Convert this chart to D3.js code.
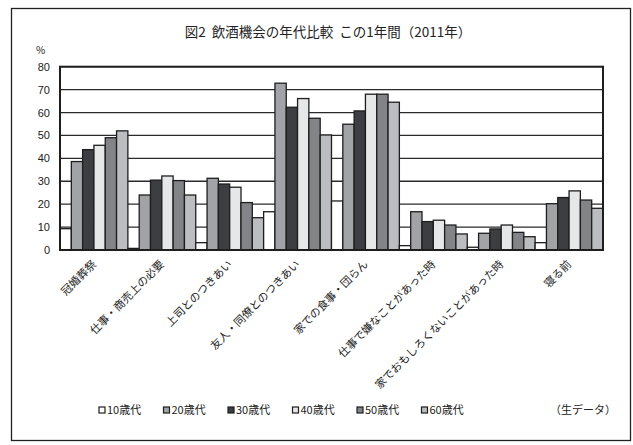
<!DOCTYPE html>
<html>
<head>
<meta charset="utf-8">
<script src="https://cdn.jsdelivr.net/npm/d3@7"></script>
<style>
  body { margin: 0; background: #fff; }
  svg text { font-family: "Noto Sans CJK JP", "Noto Sans", sans-serif; fill: #222; }
</style>
</head>
<body>
<div id="chart"></div>
<script>
// categories (drinking occasions)
var categories = ["冠婚葬祭", "仕事・商売上の必要", "上司とのつきあい", "友人・同僚とのつきあい",
	"家での食事・団らん", "仕事で嫌なことがあった時", "家でおもしろくないことがあった時", "寝る前"];
var ages = ["10歳代", "20歳代", "30歳代", "40歳代", "50歳代", "60歳代"];

// percent, one array per age group, in category order
var v10 = [9.3, 0.7, 3.2, 16.7, 21.4, 1.9, 1.2, 3.2];
var v20 = [38.6, 24.0, 31.3, 72.8, 54.9, 16.7, 7.3, 20.2];
var v30 = [43.8, 30.5, 28.8, 62.3, 60.7, 12.4, 9.2, 22.9];
var v40 = [45.7, 32.3, 27.4, 66.1, 68.0, 13.0, 10.9, 25.8];
var v50 = [49.0, 30.3, 20.7, 57.5, 68.0, 10.9, 7.7, 21.8];
var v60 = [52.0, 24.0, 14.1, 50.2, 64.5, 7.0, 5.8, 18.2];
var yTicks = [0, 10, 20, 30, 40, 50, 60, 70, 80];

var series = [v10, v20, v30, v40, v50, v60];
var colors = ["#ffffff", "#a2a3a6", "#3d3e41", "#e6e7e9", "#838487", "#bcbdc0"];

var W = 633, H = 445;
var margin = {top: 66.7, right: 30, bottom: 195, left: 60};

var svg = d3.select("#chart").append("svg")
	.attr("width", W)
	.attr("height", H);

// outer frame
svg.append("rect")
	.attr("x", 11.5).attr("y", 8.5)
	.attr("width", 619).attr("height", 432)
	.attr("fill", "none")
	.attr("stroke", "#222")
	.attr("stroke-width", 1.3);

var x0 = d3.scaleBand()
	.domain(categories)
	.range([margin.left, W - margin.right])
	.padding(0);
var x1 = d3.scaleBand()
	.domain(ages)
	.range([0, x0.bandwidth()])
	.padding(0);
var y = d3.scaleLinear()
	.domain([0, 80])
	.range([H - margin.bottom, margin.top]);

// gridlines
svg.append("g")
	.selectAll("line")
	.data(yTicks.slice(1))
	.enter().append("line")
	.attr("x1", margin.left).attr("x2", W - margin.right)
	.attr("y1", function(d) { return y(d); })
	.attr("y2", function(d) { return y(d); })
	.attr("stroke", "#2a2a2a")
	.attr("stroke-width", 1.3);

// bars
var rows = [];
categories.forEach(function(c, i) {
	ages.forEach(function(a, j) {
		rows.push({cat: c, age: a, idx: j, value: series[j][i]});
	});
});

svg.append("g")
	.selectAll("rect")
	.data(rows)
	.enter().append("rect")
	.attr("x", function(d) { return x0(d.cat) + x1(d.age); })
	.attr("y", function(d) { return y(d.value); })
	.attr("width", x1.bandwidth())
	.attr("height", function(d) { return y(0) - y(d.value); })
	.attr("fill", function(d) { return colors[d.idx]; })
	.attr("stroke", "#1e1e1e")
	.attr("stroke-width", 1.3);

// plot border
svg.append("rect")
	.attr("x", margin.left).attr("y", margin.top)
	.attr("width", W - margin.right - margin.left)
	.attr("height", y(0) - margin.top)
	.attr("fill", "none")
	.attr("stroke", "#1e1e1e")
	.attr("stroke-width", 2);

// y axis labels
var yAxis = svg.append("g")
	.attr("transform", "translate(" + margin.left + ",0)")
	.call(d3.axisLeft(y).tickValues(yTicks).tickSize(0).tickPadding(10));
yAxis.select(".domain").remove();
yAxis.selectAll("text")
	.style("font-size", "11px")
	.style("font-family", "'Liberation Sans', Arial, sans-serif")
	.attr("fill", "#222");

// category labels, rotated
var xAxis = svg.append("g")
	.attr("transform", "translate(0," + y(0) + ")")
	.call(d3.axisBottom(x0).tickSize(0).tickPadding(0));
xAxis.select(".domain").remove();
xAxis.selectAll("text")
	.style("font-size", "11px")
	.attr("fill", "#222")
	.attr("text-anchor", "end")
	.attr("dy", "0")
	.attr("transform", "translate(3,15) rotate(-45)");

// title
svg.append("text")
	.attr("x", 328)
	.attr("y", 37)
	.attr("text-anchor", "middle")
	.style("font-size", "13.5px")
	.style("white-space", "pre")
	.text("図2  飲酒機会の年代比較  この1年間（2011年）");

svg.append("text")
	.attr("x", 36)
	.attr("y", 54)
	.style("font-size", "10px")
	.text("%");

// legend
var legend = svg.append("g")
	.selectAll("g")
	.data(ages)
	.enter().append("g")
	.attr("transform", function(d, i) { return "translate(" + (99 + i * 64.5) + ",410)"; });
legend.append("rect")
	.attr("x", 0).attr("y", -3)
	.attr("width", 6).attr("height", 6)
	.attr("fill", function(d, i) { return colors[i]; })
	.attr("stroke", "#1e1e1e")
	.attr("stroke-width", 1.2);
legend.append("text")
	.attr("x", 8)
	.attr("y", 4)
	.style("font-size", "11px")
	.text(function(d) { return d; });

svg.append("text")
	.attr("x", 550)
	.attr("y", 414)
	.style("font-size", "11px")
	.text("（生データ）");
</script>
</body>
</html>
